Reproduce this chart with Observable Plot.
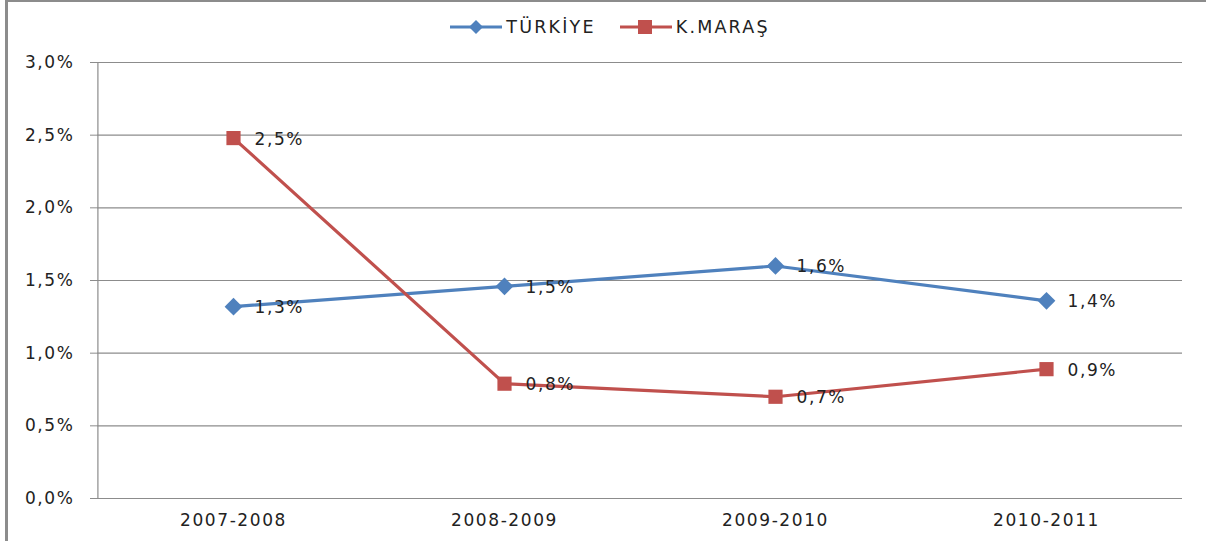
<!DOCTYPE html>
<html>
<head>
<meta charset="utf-8">
<script src="https://cdn.jsdelivr.net/npm/d3@7"></script>
<script src="https://cdn.jsdelivr.net/npm/@observablehq/plot@0.6"></script>
<style>
  html, body { margin: 0; padding: 0; background: #fff; }
  #frame { position: relative; width: 1206px; height: 541px; overflow: hidden; font-family: "DejaVu Sans", Verdana, sans-serif; }
  #border { position: absolute; left: 5px; top: 0; width: 1300px; height: 600px; border-left: 3px solid #8c8c8c; border-top: 2px solid #8c8c8c; box-sizing: border-box; pointer-events: none; }
  #legend { height: 44px; display: flex; justify-content: center; align-items: center; gap: 24px; font-size: 17.5px; letter-spacing: 2.2px; color: #222; padding-top: 10px; box-sizing: border-box; padding-left: 14px; }
  .item { display: flex; align-items: center; gap: 4px; }
  #chart svg { display: block; }
  #chart svg text { letter-spacing: 1.6px; }
</style>
</head>
<body>
<div id="frame">
  <div id="legend"></div>
  <div id="chart"></div>
  <div id="border"></div>
</div>
<script>
const periods = ["2007-2008", "2008-2009", "2009-2010", "2010-2011"];
const seriesNames = ["TÜRKİYE", "K.MARAŞ"];
const turkiye = [1.32, 1.46, 1.60, 1.36];
const kmaras = [2.48, 0.79, 0.70, 0.89];
const yTicks = [0, 0.5, 1.0, 1.5, 2.0, 2.5, 3.0];
const colors = ["#4f81bd", "#c0504d"];
const symbols = ["diamond2", "square"];

const fmt = v => v.toFixed(1).replace(".", ",") + "%";

const data = [];
periods.forEach((p, i) => {
  data.push({period: p, value: turkiye[i], series: seriesNames[0]});
  data.push({period: p, value: kmaras[i], series: seriesNames[1]});
});

// Legend
const legend = document.getElementById("legend");
seriesNames.forEach((name, i) => {
  const item = document.createElement("div");
  item.className = "item";
  const marker = symbols[i] === "square"
    ? `<rect x="18" y="4" width="14" height="14" fill="${colors[i]}"/>`
    : `<path d="M26,4 L33,11 L26,18 L19,11 Z" fill="${colors[i]}"/>`;
  item.innerHTML = `<svg width="52" height="22"><line x1="0" x2="52" y1="11" y2="11" stroke="${colors[i]}" stroke-width="3"/>${marker}</svg><span>${name}</span>`;
  legend.appendChild(item);
});

const chart = Plot.plot({
  width: 1206,
  height: 497,
  marginLeft: 97,
  marginRight: 24,
  marginTop: 18,
  marginBottom: 43,
  style: {fontFamily: "DejaVu Sans, Verdana, sans-serif", fontSize: "17px", color: "#222", background: "transparent"},
  x: {type: "point", domain: periods, padding: 0.5, label: null},
  y: {domain: [0, 3], label: null},
  color: {domain: seriesNames, range: colors},
  symbol: {domain: seriesNames, range: symbols},
  marks: [
    Plot.gridY(yTicks, {stroke: "#8c8c8c", strokeOpacity: 1, strokeWidth: 1.2}),
    Plot.ruleX([periods[0]], {y1: 0, y2: 3, stroke: "#8c8c8c", strokeWidth: 1.2, dx: -135.6}),
    Plot.axisY(yTicks, {tickFormat: fmt, tickSize: 7, tickPadding: 16, stroke: "#8c8c8c", fontSize: "17px", fill: "#222"}),
    Plot.axisX({tickSize: 0, tickPadding: 15, fontSize: "17px", fill: "#222"}),
    Plot.line(data, {x: "period", y: "value", z: "series", stroke: "series", strokeWidth: 3.2}),
    Plot.dot(data, {x: "period", y: "value", symbol: "series", fill: "series", r: 8, stroke: "none"}),
    Plot.text(data, {x: "period", y: "value", text: d => fmt(d.value), textAnchor: "start", dx: 21, dy: 1, fill: "#222", fontSize: "17px"})
  ]
});
document.getElementById("chart").appendChild(chart);
</script>
</body>
</html>
